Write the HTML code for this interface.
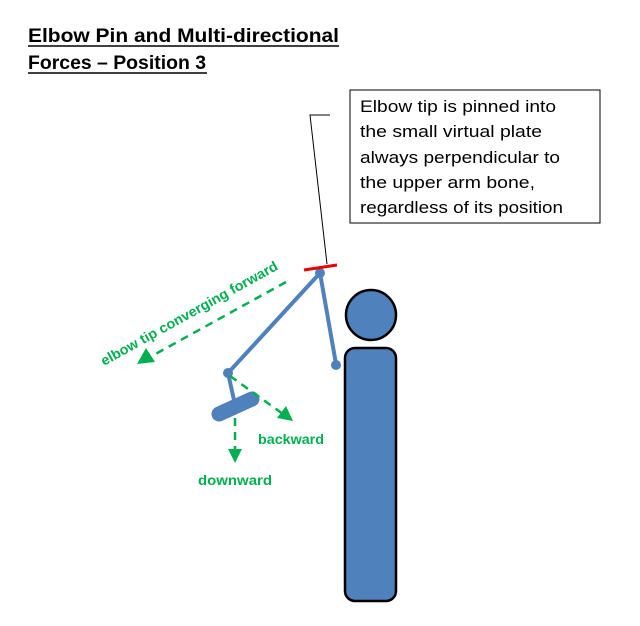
<!DOCTYPE html>
<html><head><style>
body{margin:0;background:#fff;width:640px;height:626px;overflow:hidden;font-family:"Liberation Sans",sans-serif}
</style></head><body>
<svg width="640" height="626" xmlns="http://www.w3.org/2000/svg" style="position:absolute;left:0;top:0">
<text x="28" y="42" font-size="19" font-weight="bold" textLength="311" lengthAdjust="spacingAndGlyphs">Elbow Pin and Multi-directional</text>
<line x1="28" y1="46" x2="339" y2="46" stroke="#000" stroke-width="1.5"/>
<text x="28" y="69" font-size="19" font-weight="bold" textLength="178" lengthAdjust="spacingAndGlyphs">Forces – Position 3</text>
<line x1="28" y1="73" x2="207" y2="73" stroke="#000" stroke-width="1.5"/>
<rect x="350" y="90" width="250" height="133" fill="#fff" stroke="#000" stroke-width="1"/>
<g font-size="17" fill="#000">
<text x="360" y="112" textLength="196" lengthAdjust="spacingAndGlyphs">Elbow tip is pinned into</text>
<text x="360" y="137" textLength="182" lengthAdjust="spacingAndGlyphs">the small virtual plate</text>
<text x="360" y="163" textLength="200" lengthAdjust="spacingAndGlyphs">always perpendicular to</text>
<text x="360" y="188" textLength="175" lengthAdjust="spacingAndGlyphs">the upper arm bone,</text>
<text x="360" y="213" textLength="203" lengthAdjust="spacingAndGlyphs">regardless of its position</text>
</g>
<polyline points="330,115 310,115 327,264" fill="none" stroke="#000" stroke-width="1"/>
<circle cx="371" cy="315" r="25" fill="#4f81bd" stroke="#000" stroke-width="2.5"/>
<rect x="345" y="348" width="51" height="253" rx="10" fill="#4f81bd" stroke="#000" stroke-width="2.5"/>
<g stroke="#4f81bd" stroke-width="4" stroke-linecap="round">
<line x1="320" y1="273" x2="228" y2="373"/>
<line x1="320" y1="273" x2="336" y2="364"/>
<line x1="228" y1="373" x2="234" y2="400"/>
</g>
<line x1="219" y1="414" x2="252" y2="399" stroke="#4f81bd" stroke-width="15" stroke-linecap="round"/>
<circle cx="228" cy="373" r="5" fill="#4f81bd"/>
<circle cx="336" cy="365" r="5" fill="#4f81bd"/>
<circle cx="320" cy="273" r="5" fill="#4f81bd"/>
<line x1="304" y1="270" x2="337" y2="265" stroke="#e00" stroke-width="3"/>
<g stroke="#00b050" stroke-width="2.5" stroke-dasharray="8,6" fill="none">
<line x1="286" y1="282" x2="150" y2="357"/>
<line x1="230" y1="376" x2="283" y2="414"/>
<line x1="235" y1="418" x2="235" y2="450"/>
</g>
<g fill="#00b050">
<polygon points="137,364 146,348 155,362"/>
<polygon points="293,421 277,418 286,406"/>
<polygon points="235,463 228,449 242,449"/>
</g>
<g fill="#00b050" font-size="14" font-weight="bold">
<text transform="translate(104,366) rotate(-29)" textLength="200" lengthAdjust="spacingAndGlyphs">elbow tip converging forward</text>
<text x="258" y="444" textLength="66" lengthAdjust="spacingAndGlyphs">backward</text>
<text x="198" y="485" textLength="74" lengthAdjust="spacingAndGlyphs">downward</text>
</g>
</svg>
</body></html>
